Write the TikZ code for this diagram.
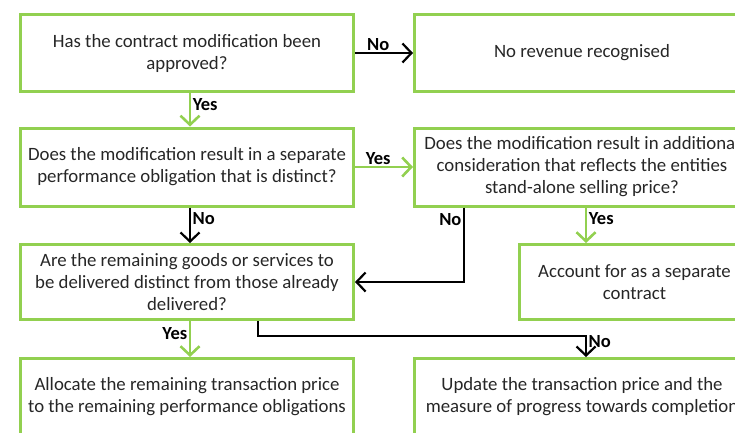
\documentclass[tikz,border=0pt]{standalone}
\usepackage{fontspec}
\setmainfont{Carlito}
\usetikzlibrary{arrows.meta,positioning}
\definecolor{boxgreen}{HTML}{92D050}

\begin{document}
\begin{tikzpicture}[x=1pt, y=-1pt,
    box/.style={rectangle, draw=boxgreen, line width=3pt, minimum width=333pt, minimum height=77pt, align=center, text=black!85, inner sep=2pt, font={\fontsize{18.8pt}{22pt}\selectfont}},
    yesline/.style={draw=boxgreen, line width=2.6pt, -{Straight Barb[length=9pt,width=19pt]}},
    noline/.style={draw=black, line width=2.2pt, -{Straight Barb[length=9pt,width=19pt]}},
    lbl/.style={inner sep=1.5pt, text=black, font={\fontsize{18.5pt}{20pt}\selectfont\bfseries}}
]
\useasboundingbox (0,0) rectangle (735,432);
\clip (0,0) rectangle (735,432);

\node[box] (approved) at (187, 53) {Has the contract modification been\\approved?};
\node[box, minimum width=335pt] (norevenue) at (582, 53) {No revenue recognised};
\node[box, minimum height=78pt] (separate) at (187, 167) {Does the modification result in a separate\\performance obligation that is distinct?};
\node[box, minimum width=335pt, minimum height=78pt] (price) at (582, 167) {Does the modification result in additional\\consideration that reflects the entities\\stand-alone selling price?};
\node[box, minimum height=75pt] (remaining) at (187, 282) {Are the remaining goods or services to\\be delivered distinct from those already\\delivered?};
\node[box, minimum width=230pt, minimum height=75pt] (contract) at (634.5, 282) {Account for as a separate\\contract};
\node[box] (allocate) at (187, 397) {Allocate the remaining transaction price\\to the remaining performance obligations};
\node[box, minimum width=335pt] (update) at (582, 397) {Update the transaction price and the\\measure of progress towards completion};

\draw[noline] (approved.east) -- (norevenue.west) node[lbl, pos=0.4, above] {No};
\draw[yesline] ([xshift=3pt]approved.south) -- ([xshift=3pt]separate.north) node[lbl, pos=0.35, right] {Yes};
\draw[yesline] (separate.east) -- (price.west) node[lbl, pos=0.4, above] {Yes};
\draw[noline] ([xshift=3pt]separate.south) -- ([xshift=3pt]remaining.north) node[lbl, pos=0.3, right] {No};
\draw[noline] ([xshift=-118pt]price.south) |- (remaining.east) node[lbl, pos=0.08, left] {No};
\draw[yesline] ([xshift=4pt]price.south) -- ([xshift=4pt]price.south |- contract.north) node[lbl, pos=0.3, right] {Yes};
\draw[yesline] ([xshift=3pt]remaining.south) -- ([xshift=3pt]allocate.north) node[lbl, pos=0.35, left] {Yes};
\draw[noline] ([xshift=71pt]remaining.south) -- ++(0,15) -| ([xshift=4pt]update.north) node[lbl, pos=0.64, right] {No};

\end{tikzpicture}
\end{document}
